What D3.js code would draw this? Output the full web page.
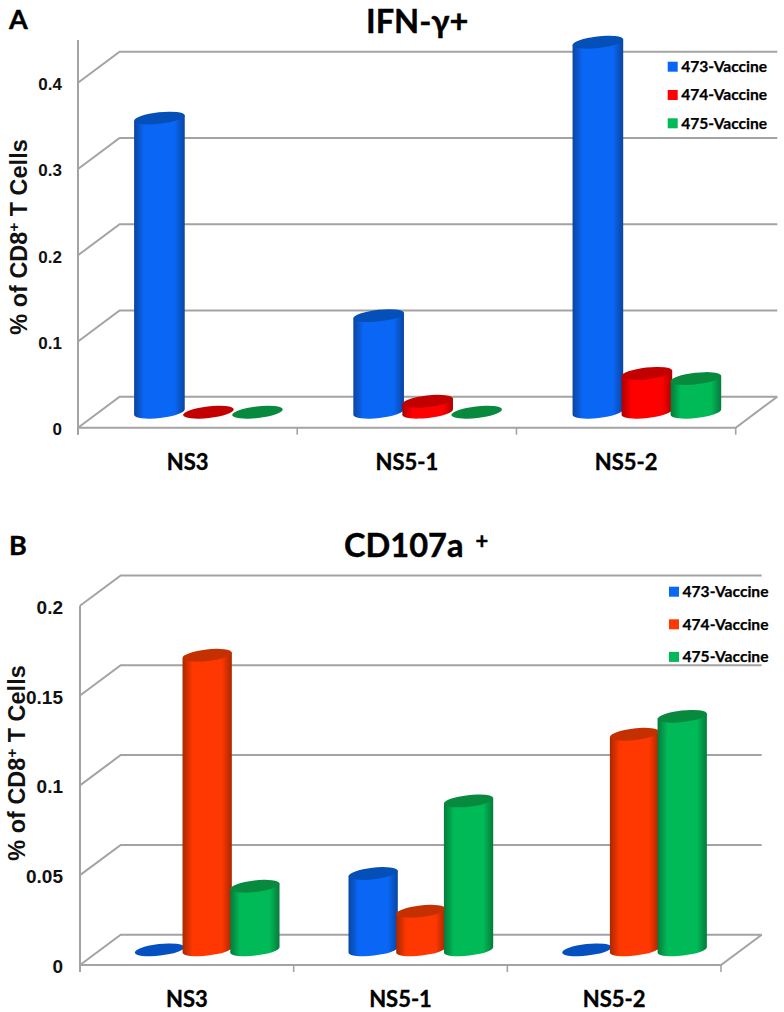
<!DOCTYPE html>
<html><head><meta charset="utf-8">
<script src="https://cdnjs.cloudflare.com/ajax/libs/d3/7.8.5/d3.min.js"></script>
<style>html,body{margin:0;padding:0;background:#fff}svg{display:block}</style>
</head><body><svg id="c" width="784" height="1012"></svg>
<script>
const categories = ["NS3", "NS5-1", "NS5-2"];
const seriesNames = ["473-Vaccine", "474-Vaccine", "475-Vaccine"];
const ifnTicks = [0, 0.1, 0.2, 0.3, 0.4];
const ifn473 = [0.341, 0.112, 0.429];
const ifn474 = [0, 0.0127, 0.045];
const ifn475 = [0, 0, 0.039];
const cdTicks = [0, 0.05, 0.1, 0.15, 0.2];
const cd473 = [0, 0.0425, 0];
const cd474 = [0.164, 0.0215, 0.12];
const cd475 = [0.0354, 0.0829, 0.13];

const paletteA = [
  {top:"#0550b8", edge:"#0a45a0", mid:"#0a66f5", flat:"#0550c0"},
  {top:"#c20000", edge:"#ad0000", mid:"#ff0000", flat:"#c20000"},
  {top:"#078a3e", edge:"#067a3a", mid:"#00ba58", flat:"#078a3e"}];
const paletteB = [
  {top:"#0550b8", edge:"#0a45a0", mid:"#0a66f5", flat:"#0550c0"},
  {top:"#c43000", edge:"#a82800", mid:"#ff3700", flat:"#c43000"},
  {top:"#078a3e", edge:"#067a3a", mid:"#00ba58", flat:"#078a3e"}];

const svg = d3.select("#c");
const defs = svg.append("defs");
const GRID = "#a3a3a3";
const TILT = 6.5, RAD = TILT * Math.PI / 180;
const INK = "#000";

function heavy(sel, w) { return sel.attr("fill", INK).attr("stroke", INK).attr("stroke-width", w); }

function panel(o) {
  const g = svg.append("g");
  const maxV = d3.max(o.ticks);
  const y = d3.scaleLinear().domain([0, maxV]).range([o.y0, o.yTop]);
  const x = d3.scaleBand().domain(categories).range([o.x0, o.x1]);
  const inner = d3.scaleBand().domain(seriesNames).range([-1.5 * o.step, 1.5 * o.step]);

  g.selectAll("path.grid").data(o.ticks).join("path")
    .attr("class", "grid").attr("fill", "none").attr("stroke", GRID).attr("stroke-width", 2)
    .attr("d", t => d3.line()([[o.x0, y(t)], [o.x0 + o.dx, y(t) - o.dy], [o.x1 + o.dx, y(t) - o.dy]]));
  g.append("path").attr("fill", "none").attr("stroke", GRID).attr("stroke-width", 2)
    .attr("d", d3.line()([[o.x0, y(0)], [o.x1, y(0)], [o.x1 + o.dx, y(0) - o.dy]]));
  g.append("line").attr("x1", o.x0).attr("x2", o.x0).attr("y1", o.axisTop).attr("y2", y(0) + 7)
    .attr("stroke", GRID).attr("stroke-width", 2);
  const ticksX = [o.x0].concat(categories.map(c => x(c) + x.bandwidth()));
  g.selectAll("line.xt").data(ticksX).join("line").attr("class", "xt")
    .attr("x1", d => d).attr("x2", d => d).attr("y1", y(0)).attr("y2", y(0) + 7)
    .attr("stroke", GRID).attr("stroke-width", 1.6);

  const ya = g.append("g").attr("transform", `translate(${o.tickX},1.5)`)
    .call(d3.axisLeft(y).tickValues(o.ticks).tickSize(0).tickPadding(0).tickFormat(d => String(d)));
  ya.select(".domain").remove();
  ya.selectAll("text").attr("font-family", "'Liberation Sans'").attr("font-weight", 700)
    .attr("font-size", o.tickSize).attr("fill", "#111");
  const xa = g.append("g").attr("transform", `translate(0,${y(0) + o.catDy})`)
    .call(d3.axisBottom(x).tickSize(0).tickPadding(0));
  xa.select(".domain").remove();
  heavy(xa.selectAll("text").attr("font-family", "Lato").attr("font-weight", 700)
    .attr("font-size", 22), 0.35);

  const unit = (y(0) - y(maxV)) / maxV;
  const baseY = y(0) - o.dy / 2;
  const rx = o.step * 0.52, ry = 5.8;
  const ex = rx * Math.cos(RAD), ey = rx * Math.sin(RAD);
  o.series.forEach((vals, si) => {
    const col = o.palette[si], id = `${o.id}-grad-${si}`;
    const gr = defs.append("linearGradient").attr("id", id).attr("x1", 0).attr("x2", 1).attr("y1", 0).attr("y2", 0);
    [[0, col.edge], [0.2, col.mid], [0.8, col.mid], [1, col.edge]]
      .forEach(s => gr.append("stop").attr("offset", s[0]).attr("stop-color", s[1]));
  });
  categories.forEach((c, ci) => {
    o.series.forEach((vals, si) => {
      const v = vals[ci], col = o.palette[si];
      const cx = x(c) + x.bandwidth() / 2 + o.dx / 2 + inner(seriesNames[si]) + inner.bandwidth() / 2;
      const ty = baseY - v * unit;
      if (v > 0) {
        g.append("path").attr("fill", `url(#${o.id}-grad-${si})`)
          .attr("d", `M${cx - ex},${ty + ey}L${cx - ex},${baseY + ey}A${rx},${ry} ${-TILT} 0 0 ${cx + ex},${baseY - ey}L${cx + ex},${ty - ey}Z`);
      }
      g.append("ellipse").attr("cx", cx).attr("cy", ty).attr("rx", rx).attr("ry", ry)
        .attr("transform", `rotate(${-TILT} ${cx} ${ty})`)
        .attr("fill", v > 0 ? col.top : col.flat);
    });
  });

  const leg = g.selectAll("g.leg").data(seriesNames).join("g").attr("class", "leg")
    .attr("transform", (d, i) => `translate(${o.legX},${o.legY + i * o.legStep})`);
  leg.append("rect").attr("x", 0).attr("y", -5).attr("width", 10).attr("height", 10)
    .attr("fill", (d, i) => o.palette[i].mid);
  heavy(leg.append("text").text(d => d).attr("x", 13.5).attr("y", 5.4)
    .attr("font-family", "Lato").attr("font-weight", 700).attr("font-size", 15.6), 0.25);

  const title = g.append("text").attr("x", o.titleX).attr("y", o.titleY)
    .attr("font-family", "Lato").attr("font-weight", 700).attr("font-size", 32.6);
  heavy(title, 0.4);
  title.text(o.title);
  if (o.titleSup) {
    title.append("tspan").text(o.titleSup).attr("font-size", 22).attr("dy", -8).attr("dx", 4);
  }
  heavy(g.append("text").text(o.letter).attr("x", 9).attr("y", o.letterY)
    .attr("font-family", "Lato").attr("font-weight", 700).attr("font-size", 27), 0.4);

  const yl = g.append("text").attr("transform", `translate(${o.ylX},${o.ylY}) rotate(-90)`)
    .attr("text-anchor", "middle").attr("font-family", "'Liberation Sans'").attr("font-weight", 700)
    .attr("font-size", 23.5).attr("fill", "#111");
  yl.append("tspan").text("% of CD8");
  yl.append("tspan").text("+").attr("font-size", 15).attr("dy", -8);
  yl.append("tspan").text(" T Cells").attr("dy", 8);
}

panel({id:"a", letter:"A", letterY:29, title:"IFN-γ+", titleX:366, titleY:33,
  ticks:ifnTicks, series:[ifn473, ifn474, ifn475], palette:paletteA,
  x0:78, x1:735.7, y0:427.7, yTop:82.7, axisTop:40, dx:41.6, dy:31, step:49, tickX:62, tickSize:17, catDy:26.5,
  legX:667.7, legY:66.7, legStep:28.3, ylX:27, ylY:237});
panel({id:"b", letter:"B", letterY:555, title:"CD107a ", titleSup:"+", titleX:344, titleY:557,
  ticks:cdTicks, series:[cd473, cd474, cd475], palette:paletteB,
  x0:80, x1:721, y0:965, yTop:605.7, axisTop:605.7, dx:40.7, dy:30.3, step:47.7, tickX:63, tickSize:19, catDy:26,
  legX:669, legY:591.7, legStep:32.6, ylX:25, ylY:763});
</script></body></html>
